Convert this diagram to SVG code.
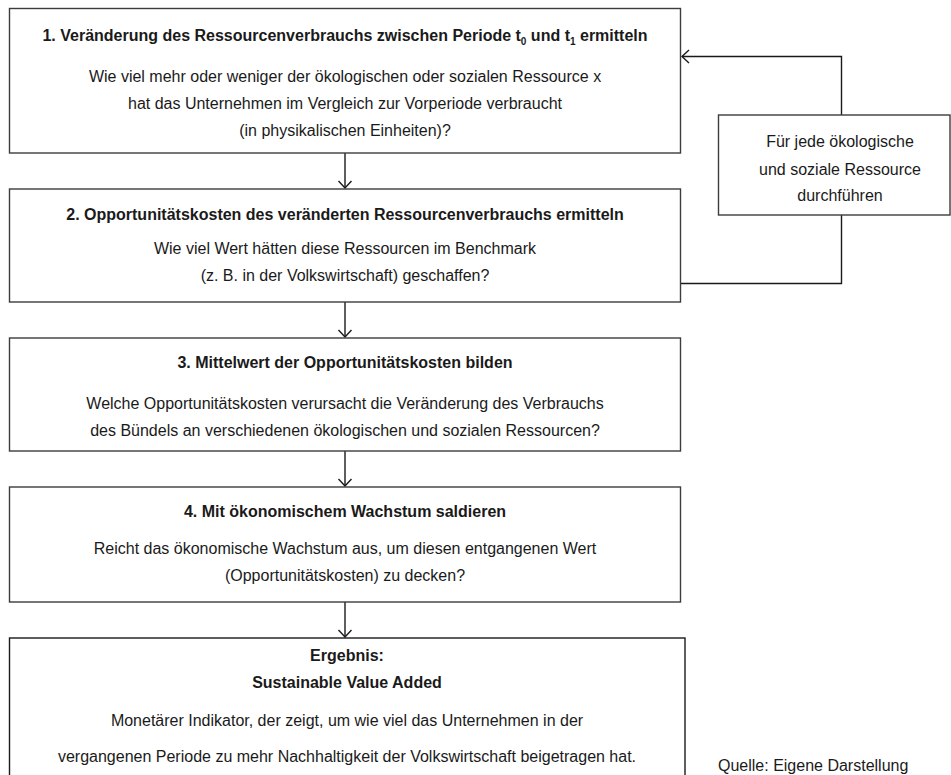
<svg xmlns="http://www.w3.org/2000/svg" width="951" height="775" viewBox="0 0 951 775">
  <defs>
    <style>
      .box { fill: #ffffff; stroke: #3c3c3c; stroke-width: 1.4; }
      .t { font-family: "Liberation Sans", Arial, sans-serif; font-size: 16px; fill: #1a1a1a; text-anchor: middle; }
      .b { font-weight: bold; }
      .sub { font-size: 10px; }
      .conn { fill: none; stroke: #1a1a1a; stroke-width: 1.4; }
    </style>
    <marker id="arr" viewBox="-10 -8 12 16" markerWidth="12" markerHeight="16" refX="0" refY="0" orient="auto" markerUnits="userSpaceOnUse">
      <path d="M-7,-6.5 L0,0 L-7,6.5" fill="none" stroke="#1a1a1a" stroke-width="1.4"/>
    </marker>
  </defs>
  <rect x="0" y="0" width="951" height="775" fill="#ffffff"/>

  <g id="connectors">
    <line class="conn" x1="345" y1="153" x2="345" y2="188" marker-end="url(#arr)"/>
    <line class="conn" x1="345" y1="302" x2="345" y2="337" marker-end="url(#arr)"/>
    <line class="conn" x1="345" y1="451" x2="345" y2="486" marker-end="url(#arr)"/>
    <line class="conn" x1="345" y1="602" x2="345" y2="637" marker-end="url(#arr)"/>
    <polyline class="conn" points="680.5,283.5 841.5,283.5 841.5,215"/>
    <polyline class="conn" points="841.5,115 841.5,56.5 682,56.5" marker-end="url(#arr)"/>
  </g>

  <g id="step1">
    <rect class="box" x="9.5" y="8.5" width="671" height="144.5"/>
    <text class="t b" x="345" y="40.5">1. Veränderung des Ressourcenverbrauchs zwischen Periode t<tspan class="sub" dy="4">0</tspan><tspan dy="-4"> und t</tspan><tspan class="sub" dy="4">1</tspan><tspan dy="-4"> ermitteln</tspan></text>
    <text class="t" x="345" y="82">Wie viel mehr oder weniger der ökologischen oder sozialen Ressource x</text>
    <text class="t" x="345" y="109">hat das Unternehmen im Vergleich zur Vorperiode verbraucht</text>
    <text class="t" x="345" y="136">(in physikalischen Einheiten)?</text>
  </g>

  <g id="step2">
    <rect class="box" x="9.5" y="189" width="671" height="113"/>
    <text class="t b" x="345" y="220">2. Opportunitätskosten des veränderten Ressourcenverbrauchs ermitteln</text>
    <text class="t" x="345" y="254">Wie viel Wert hätten diese Ressourcen im Benchmark</text>
    <text class="t" x="345" y="281">(z. B. in der Volkswirtschaft) geschaffen?</text>
  </g>

  <g id="step3">
    <rect class="box" x="9.5" y="338" width="671" height="113"/>
    <text class="t b" x="345" y="368">3. Mittelwert der Opportunitätskosten bilden</text>
    <text class="t" x="345" y="409">Welche Opportunitätskosten verursacht die Veränderung des Verbrauchs</text>
    <text class="t" x="345" y="436">des Bündels an verschiedenen ökologischen und sozialen Ressourcen?</text>
  </g>

  <g id="step4">
    <rect class="box" x="9.5" y="487" width="671" height="115"/>
    <text class="t b" x="345" y="517">4. Mit ökonomischem Wachstum saldieren</text>
    <text class="t" x="345" y="554">Reicht das ökonomische Wachstum aus, um diesen entgangenen Wert</text>
    <text class="t" x="345" y="581">(Opportunitätskosten) zu decken?</text>
  </g>

  <g id="result">
    <rect class="box" x="9.5" y="638" width="675.5" height="160" style="stroke:#1a1a1a"/>
    <text class="t b" x="347" y="661">Ergebnis:</text>
    <text class="t b" x="347" y="688">Sustainable Value Added</text>
    <text class="t" x="347" y="726">Monetärer Indikator, der zeigt, um wie viel das Unternehmen in der</text>
    <text class="t" x="347" y="762">vergangenen Periode zu mehr Nachhaltigkeit der Volkswirtschaft beigetragen hat.</text>
  </g>

  <g id="loop">
    <rect class="box" x="718.5" y="115" width="231.5" height="100"/>
    <text class="t" x="840" y="147">Für jede ökologische</text>
    <text class="t" x="840" y="175">und soziale Ressource</text>
    <text class="t" x="840" y="201">durchführen</text>
  </g>

  <text class="t" x="718" y="771" style="text-anchor:start">Quelle: Eigene Darstellung</text>
</svg>
